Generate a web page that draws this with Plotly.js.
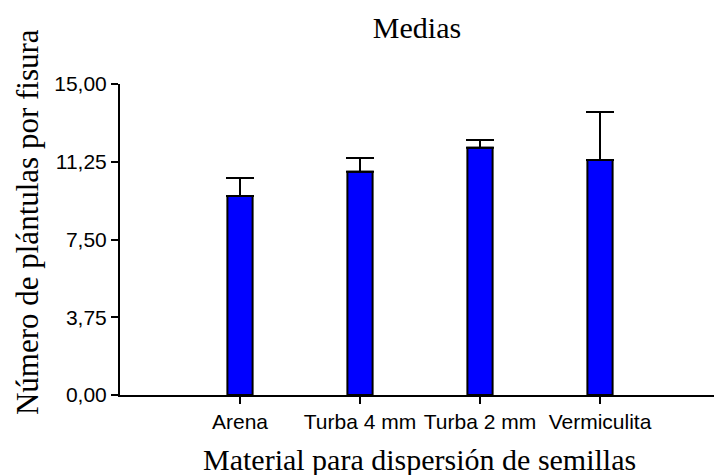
<!DOCTYPE html>
<html>
<head>
<meta charset="utf-8">
<script src="https://cdn.plot.ly/plotly-3.0.1.min.js"></script>
<style>html,body{margin:0;padding:0;background:#fff;}#chart{width:714px;height:475px;}</style>
</head>
<body>
<div id="chart"></div>
<script>
const categories = ["Arena", "Turba 4 mm", "Turba 2 mm", "Vermiculita"];
const means = [9.60, 10.77, 11.92, 11.34];
const errorsUp = [0.87, 0.66, 0.38, 2.31];
const yTickVals = [0, 3.75, 7.5, 11.25, 15];
const yTickText = ["0,00", "3,75", "7,50", "11,25", "15,00"];

const serif = "Liberation Serif, Times New Roman, serif";
const sans = "Liberation Sans, Arial, sans-serif";

const trace = {
  type: "bar",
  x: categories,
  y: means,
  width: 0.21,
  marker: {color: "#0000FF", line: {color: "#000000", width: 2}},
  error_y: {type: "data", array: errorsUp, arrayminus: errorsUp.map(() => 0), symmetric: false,
            color: "#000000", thickness: 2, width: 14},
  hoverinfo: "none"
};

const layout = {
  width: 714, height: 475,
  margin: {l: 120, r: 0, t: 84, b: 80, pad: 0},
  paper_bgcolor: "#ffffff", plot_bgcolor: "#ffffff",
  showlegend: false,
  title: {text: "Medias", font: {family: serif, size: 30, color: "#000"},
          x: 0.5, xref: "paper", xanchor: "center", xshift: 3, y: 0.942, yref: "container", yanchor: "middle"},
  xaxis: {
    type: "category", range: [-1, 3.95],
    showline: true, linecolor: "#000", linewidth: 2,
    ticks: "outside", ticklen: 7, tickwidth: 2, tickcolor: "#000",
    showgrid: false, zeroline: false,
    tickfont: {family: sans, size: 21, color: "#000"}
  },
  yaxis: {
    range: [0, 15],
    tickmode: "array", tickvals: yTickVals, ticktext: yTickText,
    showline: true, linecolor: "#000", linewidth: 2,
    ticks: "outside", ticklen: 7, tickwidth: 2, tickcolor: "#000",
    showgrid: false, zeroline: false,
    tickfont: {family: sans, size: 21, color: "#000"}
  },
  annotations: [
    {text: "Material para dispersión de semillas", xref: "paper", yref: "paper", x: 0.5, y: 0,
     xanchor: "center", yanchor: "middle", xshift: 2, yshift: -64, showarrow: false,
     font: {family: serif, size: 30, color: "#000"}},
    {text: "Número de plántulas por fisura", xref: "paper", yref: "paper", x: 0, y: 0.556,
     xanchor: "center", yanchor: "middle", xshift: -93, textangle: -90, showarrow: false,
     font: {family: serif, size: 31, color: "#000"}}
  ]
};

Plotly.newPlot("chart", [trace], layout, {staticPlot: true, displayModeBar: false});
</script>
</body>
</html>
